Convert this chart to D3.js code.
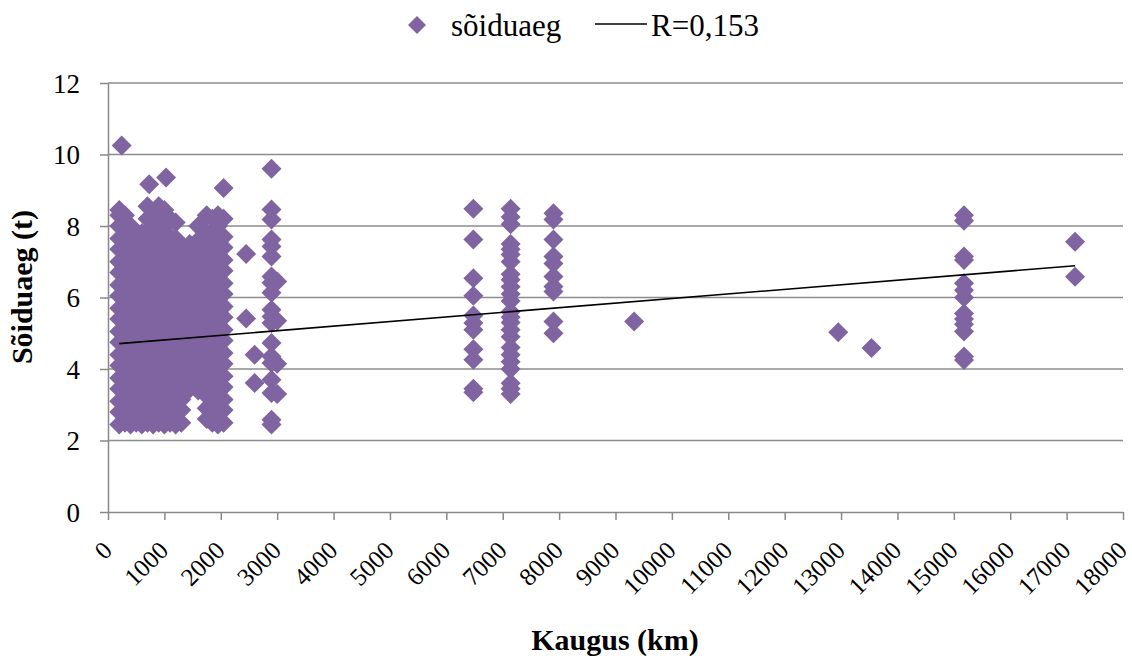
<!DOCTYPE html>
<html>
<head>
<meta charset="utf-8">
<script src="https://cdn.jsdelivr.net/npm/d3@7"></script>
<style>
    body { margin: 0; background: #fff; }
</style>
</head>
<body>
<svg id="chart" width="1132" height="656"></svg>
<script>
'use strict';

// distance (km) of each column of trips, and the travel times (h) read for it
var distKm = [
    200, 243, 300, 400, 500, 600, 700, 730, 800, 900, 1000, 1030, 1100, 1200, 1300,
    1450, 1600, 1750, 1850, 1950, 2050, 2450, 2600, 2900, 3000,
    6480, 7140, 7900, 9330, 12950, 13540, 15180, 17150
];

var travelTime = [
    [2.45, 2.8, 3.1, 3.45, 3.75, 4.1, 4.4, 4.75, 5.05, 5.4, 5.7, 6.05, 6.35, 6.7, 7.0, 7.35, 7.65, 8.0, 8.3, 8.45],
    [10.25],
    [2.5, 2.85, 3.15, 3.5, 3.8, 4.15, 4.45, 4.8, 5.1, 5.45, 5.75, 6.1, 6.4, 6.75, 7.05, 7.4, 7.7, 8.05, 8.3],
    [2.45, 2.8, 3.1, 3.45, 3.75, 4.1, 4.4, 4.75, 5.05, 5.4, 5.7, 6.05, 6.35, 6.7, 7.0, 7.35, 7.65, 8.0],
    [2.5, 2.85, 3.15, 3.5, 3.8, 4.15, 4.45, 4.8, 5.1, 5.45, 5.75, 6.1, 6.4, 6.75, 7.05, 7.4, 7.6],
    [2.45, 2.8, 3.1, 3.45, 3.75, 4.1, 4.4, 4.75, 5.05, 5.4, 5.7, 6.05, 6.35, 6.7, 7.0, 7.35, 7.8],
    [2.5, 2.85, 3.15, 3.5, 3.8, 4.15, 4.45, 4.8, 5.1, 5.45, 5.75, 6.1, 6.4, 6.75, 7.05, 7.4, 7.7, 8.2, 8.55],
    [9.17],
    [2.45, 2.8, 3.1, 3.45, 3.75, 4.1, 4.4, 4.75, 5.05, 5.4, 5.7, 6.05, 6.35, 6.7, 7.0, 7.35, 7.65, 8.0, 8.3],
    [2.5, 2.85, 3.15, 3.5, 3.8, 4.15, 4.45, 4.8, 5.1, 5.45, 5.75, 6.1, 6.4, 6.75, 7.05, 7.4, 7.7, 8.05, 8.55],
    [2.45, 2.8, 3.1, 3.45, 3.75, 4.1, 4.4, 4.75, 5.05, 5.4, 5.7, 6.05, 6.35, 6.7, 7.0, 7.35, 7.65, 8.0, 8.45],
    [9.36],
    [2.5, 2.85, 3.15, 3.5, 3.8, 4.15, 4.45, 4.8, 5.1, 5.45, 5.75, 6.1, 6.4, 6.75, 7.05, 7.4, 7.7, 8.2],
    [2.45, 2.8, 3.1, 3.45, 3.75, 4.1, 4.4, 4.75, 5.05, 5.4, 5.7, 6.05, 6.35, 6.7, 7.0, 7.35, 7.65, 8.1],
    [2.5, 2.85, 3.15, 3.5, 3.8, 4.15, 4.45, 4.8, 5.1, 5.45, 5.75, 6.1, 6.4, 6.75, 7.05, 7.45],
    [3.45, 3.75, 4.1, 4.4, 4.75, 5.05, 5.4, 5.7, 6.05, 6.35, 6.7, 7.0, 7.35, 7.5],
    [3.4, 3.7, 4.05, 4.35, 4.7, 5.0, 5.35, 5.65, 6.0, 6.3, 6.65, 6.95, 7.3, 7.6, 8.0],
    [2.6, 2.9, 3.25, 3.55, 3.9, 4.2, 4.55, 4.85, 5.2, 5.5, 5.85, 6.15, 6.5, 6.8, 7.15, 7.45, 7.8, 8.3],
    [2.5, 2.85, 3.15, 3.5, 3.8, 4.15, 4.45, 4.8, 5.1, 5.45, 5.75, 6.1, 6.4, 6.75, 7.05, 7.4, 7.7, 8.2],
    [2.45, 2.8, 3.1, 3.45, 3.75, 4.1, 4.4, 4.75, 5.05, 5.4, 5.7, 6.05, 6.35, 6.7, 7.0, 7.35, 7.65, 8.0, 8.3],
    [2.5, 2.85, 3.15, 3.5, 3.8, 4.15, 4.45, 4.8, 5.1, 5.45, 5.75, 6.1, 6.4, 6.75, 7.05, 7.4, 7.7, 8.2, 9.06],
    [7.22, 5.41],
    [4.4, 3.61],
    [9.6, 8.46, 8.18, 7.62, 7.43, 7.15, 6.59, 6.41, 6.13, 5.66, 5.47, 5.29, 4.73, 4.35, 4.17, 3.7, 3.33, 2.58, 2.45],
    [6.45, 5.35, 4.15, 3.3],
    [8.48, 7.62, 6.54, 6.05, 5.5, 5.29, 5.1, 4.55, 4.26, 3.45, 3.35],
    [8.48, 8.25, 8.05, 7.5, 7.35, 7.2, 7.0, 6.65, 6.5, 6.3, 6.1, 5.9, 5.6, 5.45, 5.3, 5.1, 4.9, 4.6, 4.4, 4.2, 4.0, 3.6, 3.45, 3.3],
    [8.36, 8.18, 7.62, 7.15, 6.95, 6.59, 6.31, 6.17, 5.33, 5.0],
    [5.33],
    [5.03],
    [4.59],
    [8.3, 8.15, 7.15, 7.05, 6.4, 6.2, 6.0, 5.55, 5.4, 5.25, 5.05, 4.35, 4.25],
    [7.56, 6.58]
];

// linear trend line end points
var trendX = [200, 17150];
var trendY = [4.71, 6.89];

var xTicks = [0, 1000, 2000, 3000, 4000, 5000, 6000, 7000, 8000, 9000,
    10000, 11000, 12000, 13000, 14000, 15000, 16000, 17000, 18000];
var yTicks = [0, 2, 4, 6, 8, 10, 12];

var seriesName = 'sõiduaeg';
var trendName = 'R=0,153';
var xTitle = 'Kaugus (km)';
var yTitle = 'Sõiduaeg (t)';

var palette = {
    marker: '#8064A2',
    axis: '#898989',
    grid: '#8c8c8c',
    trend: '#000000'
};

var serif = '"Liberation Serif", Tinos, "Times New Roman", Times, "Nimbus Roman", ' +
    '"DejaVu Serif", "Noto Serif", serif';

var svg = d3.select('#chart');

var plot = { left: 108, right: 1123, top: 83, bottom: 512 };

var x = d3.scaleLinear().domain([0, 18000]).range([plot.left, plot.right]);
var y = d3.scaleLinear().domain([0, 12]).range([plot.bottom, plot.top]);

var diamond = function(r) {
    return 'M0,' + (-r) + 'L' + r + ',0L0,' + r + 'L' + (-r) + ',0Z';
};

// horizontal grid
svg.append('g')
    .selectAll('line')
    .data(yTicks.filter(function(d) { return d > 0; }))
    .enter().append('line')
    .attr('x1', plot.left)
    .attr('x2', plot.right)
    .attr('y1', function(d) { return y(d); })
    .attr('y2', function(d) { return y(d); })
    .attr('stroke', palette.grid)
    .attr('stroke-width', 1.5);

var points = [];
distKm.forEach(function(km, i) {
    travelTime[i].forEach(function(t) {
        points.push({ km: km, t: t });
    });
});

svg.append('g')
    .selectAll('path')
    .data(points)
    .enter().append('path')
    .attr('d', diamond(10))
    .attr('transform', function(d) {
        return 'translate(' + x(d.km) + ',' + y(d.t) + ')';
    })
    .attr('fill', palette.marker);

svg.append('line')
    .attr('x1', x(trendX[0]))
    .attr('y1', y(trendY[0]))
    .attr('x2', x(trendX[1]))
    .attr('y2', y(trendY[1]))
    .attr('stroke', palette.trend)
    .attr('stroke-width', 1.6);

// axes
var xAxis = svg.append('g')
    .attr('transform', 'translate(0,' + plot.bottom + ')')
    .call(d3.axisBottom(x).tickValues(xTicks).tickSize(8).tickSizeOuter(0)
        .tickFormat(d3.format('d')));

xAxis.selectAll('text')
    .attr('x', 0)
    .attr('y', 0)
    .attr('dy', 0)
    .attr('text-anchor', 'end')
    .attr('transform', 'translate(5,40) rotate(-45)')
    .style('font-size', '25px');

var yAxis = svg.append('g')
    .attr('transform', 'translate(' + plot.left + ',0)')
    .call(d3.axisLeft(y).tickValues(yTicks).tickSize(8).tickSizeOuter(0).tickPadding(20));

yAxis.selectAll('text')
    .attr('dy', '0.34em')
    .style('font-size', '27px');

svg.selectAll('.domain, .tick line')
    .attr('stroke', palette.axis)
    .attr('stroke-width', 1.5);

// titles
svg.append('text')
    .attr('x', 615)
    .attr('y', 650)
    .attr('text-anchor', 'middle')
    .style('font-size', '30px')
    .style('font-weight', 'bold')
    .text(xTitle);

svg.append('text')
    .attr('transform', 'translate(32,287) rotate(-90)')
    .attr('text-anchor', 'middle')
    .style('font-size', '30px')
    .style('font-weight', 'bold')
    .text(yTitle);

// legend
var legend = svg.append('g');

legend.append('path')
    .attr('d', diamond(9))
    .attr('transform', 'translate(417,25)')
    .attr('fill', palette.marker);

legend.append('text')
    .attr('x', 451)
    .attr('y', 36)
    .style('font-size', '31px')
    .text(seriesName);

legend.append('line')
    .attr('x1', 595)
    .attr('x2', 647)
    .attr('y1', 24)
    .attr('y2', 24)
    .attr('stroke', palette.trend)
    .attr('stroke-width', 1.6);

legend.append('text')
    .attr('x', 651)
    .attr('y', 36)
    .style('font-size', '31px')
    .text(trendName);

svg.selectAll('text')
    .attr('font-family', null)
    .style('font-family', serif)
    .style('fill', '#000');
svg.selectAll('g').attr('font-family', null);
</script>
</body>
</html>
